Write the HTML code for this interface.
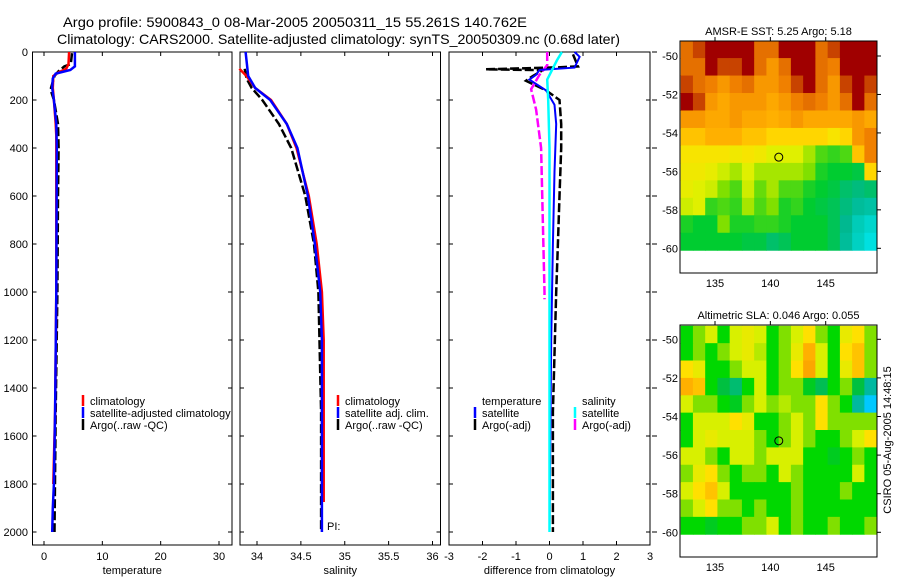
<!DOCTYPE html>
<html><head><meta charset="utf-8"><style>
body{margin:0;background:#fff;}
svg{display:block;font-family:"Liberation Sans",sans-serif;}
</style></head><body>
<svg id="fig" width="900" height="580" xmlns="http://www.w3.org/2000/svg">
<text x="63" y="27" font-size="14" textLength="464" lengthAdjust="spacingAndGlyphs">Argo profile:  5900843_0 08-Mar-2005 20050311_15 55.261S 140.762E</text>
<text x="57" y="44" font-size="14" textLength="563" lengthAdjust="spacingAndGlyphs">Climatology: CARS2000. Satellite-adjusted climatology: synTS_20050309.nc (0.68d later)</text>
</svg>
<script>
// ---------- data ----------
const depthTicks=[0,200,400,600,800,1000,1200,1400,1600,1800,2000];
const tempTicks=[0,10,20,30];
const salTicks=[34,34.5,35,35.5,36];
const salTickLabels=["34","34.5","35","35.5","36"];
const diffTicks=[-3,-2,-1,0,1,2,3];
const tempClimDepth=[0,50,70,85,100,150,200,300,350,1000,1500,1800];
const tempClimVal=[4.3,4.2,3.8,2.5,1.6,1.5,1.7,2.0,2.1,2.1,1.9,1.6];
const tempSatDepth=[0,60,75,90,110,150,200,300,400,1000,1500,1800,1900,2000];
const tempSatVal=[5.3,5.3,4.5,2.0,1.5,1.4,1.7,2.1,2.2,2.1,1.9,1.7,1.5,1.4];
const tempArgoDepth=[5,50,60,80,100,150,170,200,300,400,600,1000,1500,2000];
const tempArgoVal=[4.8,4.6,3.5,2.5,1.8,1.2,1.3,1.7,2.4,2.5,2.4,2.3,2.0,1.8];
const salClimDepth=[70,100,150,200,300,400,600,800,1000,1200,1500,1875];
const salClimVal=[33.8,33.88,33.98,34.16,34.34,34.45,34.59,34.68,34.74,34.76,34.76,34.76];
const salSatDepth=[0,100,150,200,300,400,600,800,1000,1200,1500,2000];
const salSatVal=[33.87,33.9,33.98,34.15,34.34,34.46,34.58,34.66,34.72,34.74,34.74,34.74];
const salArgoDepth=[70,110,150,200,300,400,600,800,1000,1500,2000];
const salArgoVal=[33.86,33.88,33.94,34.06,34.25,34.39,34.55,34.65,34.7,34.73,34.73];
const dTempSatDepth=[0,20,65,75,95,115,160,220,300,500,800,1200,2000];
const dTempSatVal=[0.75,0.9,0.75,-0.3,-0.4,-0.6,-0.1,0.15,0.2,0.15,0.1,0.05,0.0];
const dTempArgoDepth=[10,60,64,72,76,100,120,160,200,300,400,600,800,1000,1500,2000];
const dTempArgoVal=[0.7,0.85,0.2,-1.9,-0.2,-0.5,-0.7,-0.1,0.3,0.35,0.35,0.3,0.25,0.2,0.1,0.1];
const dSalSatDepth=[0,35,115,200,400,1000,2000];
const dSalSatVal=[0.37,0.22,-0.07,-0.04,0,0,0];
const dSalArgoDepth=[0,55,95,155,240,400,1000,1030];
const dSalArgoVal=[-0.07,-0.07,-0.3,-0.55,-0.4,-0.25,-0.15,-0.15];
const mapLonTicks=[135,140,145];
const mapLatTicks=[-50,-52,-54,-56,-58,-60];
const argoLon=140.762, argoLat=-55.261;
const sstGrid=[
[7,7.5,8,8,8,8,7,7,8,8,8,7,7.5,8,8,8],
[7,7,8,7.5,7.5,8,7,6.5,7,8,8,7,6.8,8,8,8],
[7.5,7,6.8,6.5,6.8,7,6.5,6.5,6.8,7.5,8,7,6.5,7.5,8,7.5],
[8,7.5,6.5,6.3,6.5,6.5,6.5,6.3,6.5,6.8,7,6.8,6.5,7,8,7],
[6.5,6.5,6.3,6.3,6.5,6.3,6.3,6.2,6.3,6.5,6.3,6.3,6.3,6.3,6.5,6.3],
[6,6,6.2,6.2,6.2,6,6,5.8,5.8,5.8,5.8,5.8,5.6,5.8,6.5,6.8],
[5.6,5.6,5.6,5.6,5.5,5.6,5.5,5.3,5.3,5.3,5,4.6,4.5,4.6,6,6.8],
[5.5,5.5,5.4,5.2,5,5.3,5,5,5,5,4.8,4.4,4.3,4.3,4.2,5.8],
[5.4,5.3,5.2,4.8,4.6,5.2,4.7,5,4.6,4.6,4.4,4.3,4.2,4,3.9,4],
[5.2,5.3,4.5,4.6,4.5,5,4.6,4.8,4.4,4.5,4.3,4.2,4.1,3.9,3.7,3.6],
[4.4,4.3,4.3,4.8,4.4,4.4,4.5,4.5,4.4,4.3,4.3,4.3,4.1,3.8,3.4,3.2],
[4.3,4.3,4.3,4.3,4.3,4.2,4.2,4,4.1,4.3,4.3,4.3,4.1,3.7,3.3,3]];
const slaGrid=[
[0,0.05,0.1,0,0.1,0.12,0.1,0,0.05,0.1,0.15,0.05,0,0.12,0.15,0.05],
[0,0.05,0,0.05,0.1,0.12,0.08,0,0.05,0.12,0.2,0.1,0,0.15,0.18,0.05],
[0.15,0.12,0,0,0.05,0.1,0.1,0,0.05,0.15,0.22,0.1,0,0.12,0.18,0.05],
[0.2,0.18,0,-0.1,-0.15,0,0.1,0,0.05,0.05,-0.05,-0.12,0,0.05,-0.1,-0.2],
[0.1,0.05,0.05,0,-0.05,0.05,0.1,0.05,0.08,0.05,0.05,0.15,0.05,0,-0.2,-0.3],
[0,0.1,0.1,0.1,0.15,0.12,0,0,0.05,0.1,0.05,0.15,0.05,0.05,0.05,0.05],
[0,0.1,0.12,0.1,0.1,0.1,0.05,0,0.05,0.1,0.05,0,0,0.05,0.1,0.15],
[0.1,0.1,0.05,0,0.1,0.1,0.05,0.1,0.1,0.1,0,0,-0.05,0,0.05,0],
[0.05,0.12,0.15,0.05,0,0.05,0.05,0,0.1,0.05,0,0,0,0,0.1,0],
[0.1,0.15,0.18,0.1,0,0,0,0,0,0.05,0,0,0,0.05,0,0],
[0.05,0.1,0.15,0.05,0.05,0,0.05,0,0,0.05,0,0,0,0,0,0],
[0,0,-0.05,0,0,0.05,0.05,0.1,0,0.05,0,0,0.05,0,0,0.05]];

// ---------- helpers ----------
const NS="http://www.w3.org/2000/svg";
const svg=document.getElementById('fig');
function mk(tag,attrs,parent){const e=document.createElementNS(NS,tag);for(const k in attrs)e.setAttribute(k,attrs[k]);(parent||svg).appendChild(e);return e;}
const yTop=52, yPerM=0.24, boxBottom=545;
function yD(d){return yTop+d*yPerM;}
function lin(d0,d1,p0,p1){return v=>p0+(v-d0)*(p1-p0)/(d1-d0);}
const xT=lin(0,30,44,219), xS=lin(34,36,257,432.5), xDf=lin(-3,3,449,650);
function poly(xs,ds,xf,color,w,dash,name){
  const pts=ds.map((d,i)=>xf(xs[i]).toFixed(1)+","+yD(d).toFixed(1)).join(" ");
  const e=mk('polyline',{points:pts,fill:'none',stroke:color,'stroke-width':w});
  if(dash)e.setAttribute('stroke-dasharray',dash);
  
  
}
function panel(x0,x1,ticks,labels,xf,title,name,showDepth){
  const g=mk('g',{});
  
  
  mk('rect',{x:x0,y:yTop,width:x1-x0,height:boxBottom-yTop,fill:'none',stroke:'#000','stroke-width':1},g);
  ticks.forEach((t,i)=>{const x=xf(t);
    mk('line',{x1:x,x2:x,y1:yTop,y2:yTop+4,stroke:'#000'},g);
    mk('line',{x1:x,x2:x,y1:boxBottom,y2:boxBottom-4,stroke:'#000'},g);
    const tx=mk('text',{x:x,y:560,'font-size':11,'text-anchor':'middle'},g);tx.textContent=labels[i];
    
    
  });
  depthTicks.forEach(d=>{const y=yD(d);
    mk('line',{x1:x0,x2:x0+4,y1:y,y2:y,stroke:'#000'},g);
    mk('line',{x1:x1,x2:x1-4,y1:y,y2:y,stroke:'#000'},g);
    if(showDepth){const tx=mk('text',{x:28,y:y+4,'font-size':11,'text-anchor':'end'},g);tx.textContent=d;
      
      }
  });
  const t=mk('text',{x:(x0+x1)/2,y:574,'font-size':11,'text-anchor':'middle'},g);t.textContent=title;
  
  
}
function legend(x,y,color,label,dash){
  if(color){const l=mk('line',{x1:x,x2:x,y1:y-10,y2:y+1,stroke:color,'stroke-width':2.5});
    
    }
  const t=mk('text',{x:x+7,y:y,'font-size':11});t.textContent=label;
  
  
}
// panels
panel(32.5,232,tempTicks,tempTicks.map(String),xT,'temperature','temperature-panel',true);
panel(240,440.5,salTicks,salTickLabels,xS,'salinity','salinity-panel',false);
panel(449,650,diffTicks,diffTicks.map(String),xDf,'difference from climatology','difference-panel',false);
depthTicks.forEach(d=>{const l=mk('line',{x1:652,x2:657,y1:yD(d),y2:yD(d),stroke:'#000'});
  
  });
// series
poly(tempArgoVal,tempArgoDepth,xT,'#000',2.5,'9,3','temp-argo-line');
poly(tempClimVal,tempClimDepth,xT,'#f00',2.5,null,'temp-clim-line');
poly(tempSatVal,tempSatDepth,xT,'#00f',2.5,null,'temp-sat-line');
poly(salArgoVal,salArgoDepth,xS,'#000',2.5,'9,3','sal-argo-line');
poly(salClimVal,salClimDepth,xS,'#f00',2.5,null,'sal-clim-line');
poly(salSatVal,salSatDepth,xS,'#00f',2.5,null,'sal-sat-line');
poly(dTempArgoVal,dTempArgoDepth,xDf,'#000',2.5,'9,3','dtemp-argo-line');
poly(dSalArgoVal,dSalArgoDepth,xDf,'#f0f',2.5,'9,3','dsal-argo-line');
poly(dTempSatVal,dTempSatDepth,xDf,'#00f',2,null,'dtemp-sat-line');
poly(dSalSatVal,dSalSatDepth,xDf,'#0ff',2.5,null,'dsal-sat-line');
// legends
legend(83,405,'#f00','climatology');legend(83,417,'#00f','satellite-adjusted climatology');legend(83,429,'#000','Argo(..raw -QC)');
legend(338,405,'#f00','climatology');legend(338,417,'#00f','satellite adj. clim.');legend(338,429,'#000','Argo(..raw -QC)');
legend(475,405,null,'temperature');legend(475,417,'#00f','satellite');legend(475,429,'#000','Argo(-adj)');
legend(575,405,null,'salinity');legend(575,417,'#0ff','satellite');legend(575,429,'#f0f','Argo(-adj)');
{const t=mk('text',{x:327,y:530,'font-size':11});t.textContent='PI:';
 
 }

// ---------- maps ----------
function rgb(c){return 'rgb('+c.join(',')+')';}
function colorFrom(stops,v){
  if(v<=stops[0][0])return rgb(stops[0][1]);
  for(let i=1;i<stops.length;i++){if(v<=stops[i][0]){const a=stops[i-1],b=stops[i],f=(v-a[0])/(b[0]-a[0]);
    return rgb([0,1,2].map(k=>Math.round(a[1][k]+(b[1][k]-a[1][k])*f)));}}
  return rgb(stops[stops.length-1][1]);
}
const sstStops=[[3,[0,224,224]],[3.8,[0,184,144]],[4.3,[0,204,48]],[4.8,[128,224,0]],[5.3,[224,240,0]],[5.7,[255,224,0]],[6.2,[255,176,0]],[6.8,[240,128,0]],[7.4,[208,80,0]],[8,[160,0,0]]];
const slaStops=[[-0.3,[0,200,255]],[-0.2,[0,184,160]],[-0.1,[0,192,64]],[0,[0,216,0]],[0.05,[128,224,0]],[0.1,[216,240,0]],[0.15,[255,224,0]],[0.2,[255,176,0]],[0.3,[240,128,0]]];
function drawMap(o){
  const g=mk('g',{});
  
  
  const xL=lin(135,145,o.x135,o.x145), yL=lin(-50,-60,o.y50,o.y60);
  const lonW=(149.6-131.9)/o.grid[0].length;
  const latH=(o.latTop-(-60.1))/o.grid.length;
  o.grid.forEach((row,r)=>row.forEach((v,c)=>{
    const x=xL(131.9+c*lonW), x2=xL(131.9+(c+1)*lonW);
    const y=yL(o.latTop-r*latH), y2=yL(o.latTop-(r+1)*latH);
    const cell=mk('rect',{x:x.toFixed(2),y:y.toFixed(2),width:(x2-x+0.5).toFixed(2),height:(y2-y+0.5).toFixed(2),fill:colorFrom(o.stops,v)},g);
    
    
  }));
  mk('rect',{x:o.bx0,y:o.by0,width:o.bx1-o.bx0,height:o.by1-o.by0,fill:'none',stroke:'#000'},g);
  mapLonTicks.forEach(t=>{const x=xL(t);
    mk('line',{x1:x,x2:x,y1:o.by0,y2:o.by0-4,stroke:'#000'},g);
    const tx=mk('text',{x:x,y:o.by1+14,'font-size':11,'text-anchor':'middle'},g);tx.textContent=t;
    
    });
  mapLatTicks.forEach(t=>{const y=yL(t);
    mk('line',{x1:o.bx1,x2:o.bx1+4,y1:y,y2:y,stroke:'#000'},g);
    const tx=mk('text',{x:o.bx0-2,y:y+4,'font-size':11,'text-anchor':'end'},g);tx.textContent=t;
    
    });
  const c=mk('circle',{cx:xL(argoLon),cy:yL(argoLat),r:4,fill:'none',stroke:'#000','stroke-width':1},g);
  
  
  const tt=mk('text',{x:(o.bx0+o.bx1)/2,y:o.by0-6,'font-size':11,'text-anchor':'middle'},g);tt.textContent=o.title;
  
  
}
drawMap({name:'sst-map',grid:sstGrid,stops:sstStops,x135:715,x145:825.7,y50:56,y60:248.3,latTop:-49.2,bx0:680,bx1:877,by0:41,by1:273,title:'AMSR-E SST: 5.25 Argo: 5.18'});
drawMap({name:'sla-map',grid:slaGrid,stops:slaStops,x135:715,x145:825.7,y50:339.3,y60:532.3,latTop:-49.3,bx0:680,bx1:877,by0:325,by1:557,title:'Altimetric SLA: 0.046 Argo: 0.055'});
{const t=mk('text',{x:0,y:0,'font-size':11,'text-anchor':'middle',transform:'translate(891,440) rotate(-90)'});
 t.textContent='CSIRO 05-Aug-2005 14:48:15';
 
 }
</script>
</body></html>
